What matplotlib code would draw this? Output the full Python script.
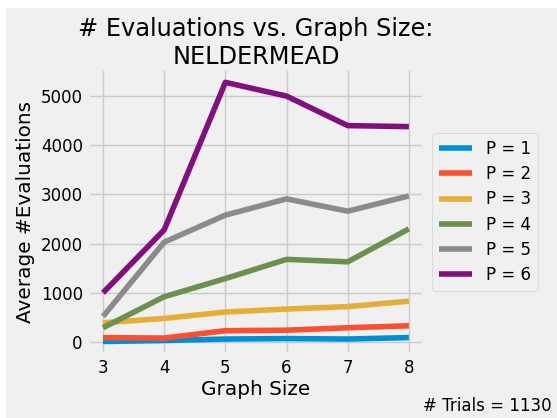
import matplotlib
matplotlib.use("Agg")
import matplotlib.pyplot as plt
from matplotlib.patches import Rectangle

graph_sizes = [3, 4, 5, 6, 7, 8]
p1 = [10, 30, 60, 70, 60, 90]
p2 = [90, 80, 230, 240, 290, 330]
p3 = [390, 480, 610, 670, 720, 830]
p4 = [290, 920, 1290, 1680, 1630, 2300]
p5 = [520, 2030, 2580, 2910, 2660, 2970]
p6 = [1000, 2280, 5280, 5000, 4400, 4380]
series = [p1, p2, p3, p4, p5, p6]
labels = ["P = %d" % (i + 1) for i in range(len(series))]
n_trials = 1130

plt.style.use("fivethirtyeight")

fig = plt.figure(figsize=(5.57, 4.18), dpi=100, facecolor="white")
# grey page starts a few pixels in from the top/left edge
fig.patches.append(Rectangle((6 / 557, 0), 1, 410 / 418, transform=fig.transFigure,
                             facecolor="#f0f0f0", edgecolor="none", zorder=-10))

ax = fig.add_axes([0.1575, 0.152, 0.604, 0.682])

for vals, lab in zip(series, labels):
    ax.plot(graph_sizes, vals, label=lab)

ax.set_title("# Evaluations vs. Graph Size:\nNELDERMEAD", fontsize=17.3, pad=3.8)
ax.set_xlabel("Graph Size", fontsize=14.4, labelpad=2)
ax.set_ylabel("Average #Evaluations", fontsize=14.4)
ax.tick_params(labelsize=12)
ax.set_xticks(graph_sizes)
ax.legend(loc="center left", bbox_to_anchor=(1.0, 0.5), fontsize=12, labelspacing=0.43)
fig.text(0.99, 0.017, "# Trials = %d" % n_trials, ha="right", va="baseline", fontsize=12)

fig.savefig("out.png", dpi=100, facecolor=fig.get_facecolor())
